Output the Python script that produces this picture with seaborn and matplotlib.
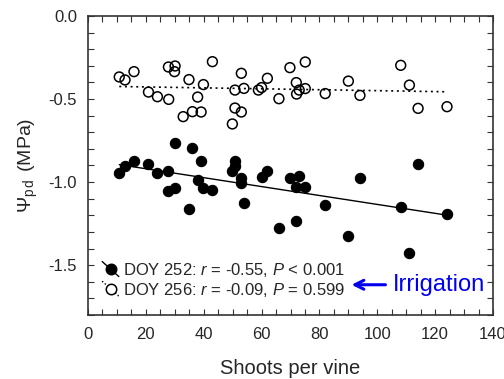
import numpy as np
import pandas as pd
import seaborn as sns
import matplotlib
matplotlib.use("Agg")
import matplotlib.pyplot as plt
from matplotlib.lines import Line2D
from matplotlib.legend_handler import HandlerBase
from matplotlib.ticker import MultipleLocator

# Shoots per vine and predawn water potential, DOY 252 (before irrigation)
shoots_252 = [10.8, 12.8, 15.9, 20.9, 24.0, 27.8, 30.1, 27.8, 30.1, 34.9, 36.1, 39.1,
              37.9, 39.9, 43.0, 50.8, 50.8, 49.9, 53.0, 53.0, 53.9, 60.0, 62.0, 66.0,
              69.8, 73.0, 72.0, 75.1, 72.0, 82.0, 90.0, 94.0, 108.1, 114.1, 124.1, 111.1]
psi_252 = [-0.943, -0.904, -0.875, -0.893, -0.943, -0.936, -0.763, -1.054, -1.034, -1.164,
           -0.797, -0.875, -0.988, -1.034, -1.046, -0.873, -0.904, -0.936, -0.974, -1.008,
           -1.128, -0.967, -0.934, -1.277, -0.978, -0.964, -1.028, -1.028, -1.237, -1.136,
           -1.325, -0.976, -1.148, -0.893, -1.195, -1.425]

# DOY 256 (after irrigation)
shoots_256 = [10.8, 12.8, 15.9, 20.9, 24.0, 27.8, 30.1, 29.9, 27.9, 34.9, 39.9, 37.9, 43.0,
              32.9, 36.1, 39.1, 49.9, 50.8, 53.0, 50.8, 53.0, 53.9, 58.9, 60.0, 62.0, 66.0,
              69.8, 72.0, 72.1, 73.0, 75.1, 75.1, 82.0, 90.0, 94.0, 108.1, 111.1, 114.1, 124.1]
psi_256 = [-0.367, -0.385, -0.335, -0.458, -0.486, -0.307, -0.301, -0.335, -0.502, -0.383,
           -0.413, -0.488, -0.275, -0.606, -0.576, -0.578, -0.650, -0.554, -0.578, -0.446,
           -0.345, -0.436, -0.446, -0.431, -0.375, -0.498, -0.311, -0.401, -0.470, -0.446,
           -0.277, -0.437, -0.467, -0.392, -0.478, -0.297, -0.416, -0.556, -0.546]

labels = [r"DOY 252: $r$ = -0.55, $P$ < 0.001",
          r"DOY 256: $r$ = -0.09, $P$ = 0.599"]
x_ticks = [0, 20, 40, 60, 80, 100, 120, 140]
y_ticks = [0.0, -0.5, -1.0, -1.5]

sns.set_style("ticks")
plt.rcParams["font.family"] = ["Liberation Sans", "DejaVu Sans"]
plt.rcParams["mathtext.fontset"] = "custom"
plt.rcParams["mathtext.rm"] = "Liberation Sans"
plt.rcParams["mathtext.it"] = "Liberation Sans:italic"
plt.rcParams["mathtext.bf"] = "Liberation Sans:bold"

df252 = pd.DataFrame({"shoots": shoots_252, "psi": psi_252})
df256 = pd.DataFrame({"shoots": shoots_256, "psi": psi_256})

fig = plt.figure(figsize=(5.04, 3.79), dpi=100)
ax = fig.add_axes([0.1746, 0.1689, 0.8036, 0.7889])

frame = "#333333"
sns.regplot(data=df252, x="shoots", y="psi", scatter=False, ci=None, truncate=True,
            line_kws=dict(color="black", lw=1.0), ax=ax)
sns.regplot(data=df256, x="shoots", y="psi", scatter=False, ci=None, truncate=True,
            line_kws=dict(color="black", lw=1.2, ls=(0, (1.2, 2.2))), ax=ax)
sns.scatterplot(data=df252, x="shoots", y="psi", s=55, color="black",
                edgecolor="black", linewidth=0.8, ax=ax, zorder=3)
sns.scatterplot(data=df256, x="shoots", y="psi", s=50, facecolor="none",
                edgecolor="black", linewidth=1.1, ax=ax, zorder=3)

ax.set_xlim(0, 140)
ax.set_ylim(-1.8, 0.0)
ax.set_xticks(x_ticks)
ax.set_yticks(y_ticks)
ax.set_xticklabels([str(t) for t in x_ticks])
ax.set_yticklabels([f"{t:.1f}" for t in y_ticks])
ax.xaxis.set_minor_locator(MultipleLocator(5))
ax.yaxis.set_minor_locator(MultipleLocator(0.1))
ax.tick_params(which="both", direction="in", top=True, right=True,
               color=frame, width=0.8, length=4)
ax.tick_params(axis="x", which="major", labelsize=12, pad=9)
ax.tick_params(axis="y", which="major", labelsize=12, pad=8)
for sp in ax.spines.values():
    sp.set_visible(True)
    sp.set_color(frame)
    sp.set_linewidth(1.2)

ax.set_xlabel("Shoots per vine", fontsize=14.5, labelpad=12)
ax.set_ylabel(r"$\Psi_{\mathrm{p}\,\mathrm{d}}\;\,$(MPa)", fontsize=14, labelpad=6)


class SlopedHandler(HandlerBase):
    """Legend key: a short diagonal line segment behind the marker."""
    def __init__(self, ls, face):
        super().__init__()
        self.ls = ls
        self.face = face

    def create_artists(self, legend, orig_handle, xdescent, ydescent,
                       width, height, fontsize, trans):
        cx, cy = width / 2 - xdescent, height / 2 - ydescent
        d = 0.5 * width
        seg = Line2D([cx - d, cx + d], [cy + d * 0.9, cy - d * 0.9],
                     color="black", lw=1.0, ls=self.ls, transform=trans)
        mk = Line2D([cx], [cy], marker="o", ms=7.5, mfc=self.face,
                    mec="black", mew=1.1, ls="none", transform=trans)
        return [seg, mk]


h1 = Line2D([], [])
h2 = Line2D([], [])
ax.legend([h1, h2], labels, loc="lower left", bbox_to_anchor=(0.035, 0.055),
          frameon=False, fontsize=12, handlelength=1.0, handletextpad=0.25,
          labelspacing=0.1, borderpad=0, borderaxespad=0,
          handler_map={h1: SlopedHandler("-", "black"),
                       h2: SlopedHandler((0, (1, 1.5)), "white")})

ax.annotate("Irrigation", xy=(91.1, -1.618), xytext=(105.4, -1.618),
            ha="left", va="center", fontsize=17, color="#0000ee",
            arrowprops=dict(arrowstyle="->", color="#0000ee", lw=2.2,
                            mutation_scale=16, shrinkA=3, shrinkB=0))

fig.savefig("out.png", dpi=100)
